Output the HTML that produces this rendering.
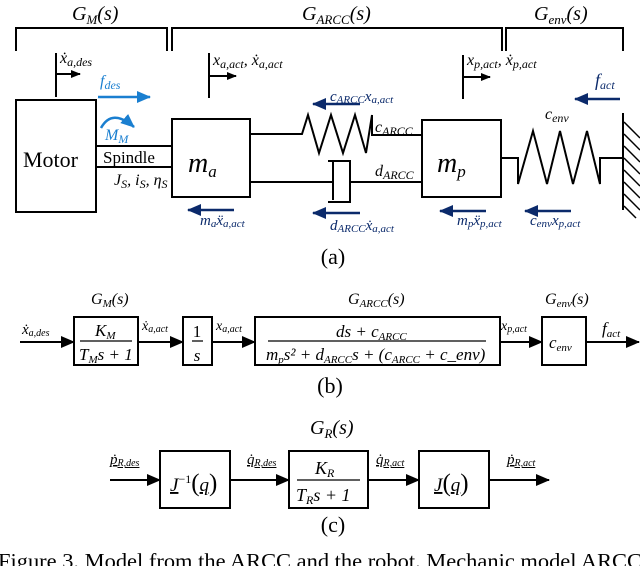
<!DOCTYPE html>
<html><head><meta charset="utf-8"><style>
html,body{margin:0;padding:0;background:#fff;width:640px;height:566px;overflow:hidden}
svg{display:block}
text{font-family:"Liberation Serif",serif}
.m{font-style:italic}
</style></head><body>
<svg width="640" height="566" viewBox="0 0 640 566" xmlns="http://www.w3.org/2000/svg">
<defs>
<marker id="ak" markerWidth="10" markerHeight="8" refX="9" refY="4" orient="auto" markerUnits="userSpaceOnUse"><path d="M0,0 L10,4 L0,8z" fill="#000"/></marker>
<marker id="ab" markerWidth="14" markerHeight="12" refX="13" refY="6" orient="auto" markerUnits="userSpaceOnUse"><path d="M0,0 L14,6 L0,12z" fill="#000"/></marker>
<marker id="al" markerWidth="14" markerHeight="12" refX="13" refY="6" orient="auto" markerUnits="userSpaceOnUse"><path d="M0,0 L14,6 L0,12z" fill="#1a7fd0"/></marker>
<marker id="an" markerWidth="14" markerHeight="12" refX="13" refY="6" orient="auto" markerUnits="userSpaceOnUse"><path d="M0,0 L14,6 L0,12z" fill="#0b2a6b"/></marker>
</defs>
<g fill="none" stroke="#000" stroke-width="2">
<path d="M16,51 V28 H167 V51"/>
<path d="M172,51 V28 H502 V51"/>
<path d="M506,51 V28 H623 V51"/>
<path d="M56,97 V53 M56,74 H80" marker-end="url(#ak)"/>
<path d="M209,98 V53 M209,76 H236" marker-end="url(#ak)"/>
<path d="M463,99 V55 M463,77 H490" marker-end="url(#ak)"/>
<rect x="16" y="100" width="80" height="112"/>
<rect x="96" y="146" width="76" height="21"/>
<rect x="172" y="119" width="78" height="78"/>
<rect x="422" y="120" width="79" height="77"/>
<path d="M250,134 H302 L308,115 L319,153 L331,115 L343,153 L355,115 L366,153 L372,115 V135 H422"/>
<path d="M250,182 H333 M333,162 V200 M328,161 H350 V202 H328 M350,182 H422"/>
<path d="M501,158 H518 V184 L533,131 L547,184 L560,131 L573,184 L587,131 L600,184 V158 H623"/>
<path d="M623,113 V210"/>
</g>
<g stroke="#000" stroke-width="1.5">
<path d="M624,122 L640,138 M624,134 L640,150 M624,146 L640,162 M624,158 L640,174 M624,170 L640,186 M624,182 L640,198 M624,194 L640,210 M624,206 L636,218"/>
</g>
<g fill="none" stroke-width="2.5">
<path d="M98,97 H150" stroke="#1a7fd0" marker-end="url(#al)"/>
<path d="M101,128 Q112,108 134,127" stroke="#1a7fd0" marker-end="url(#al)"/>
<path d="M360,104 H313" stroke="#0b2a6b" marker-end="url(#an)"/>
<path d="M360,213 H313" stroke="#0b2a6b" marker-end="url(#an)"/>
<path d="M234,210 H188" stroke="#0b2a6b" marker-end="url(#an)"/>
<path d="M486,211 H440" stroke="#0b2a6b" marker-end="url(#an)"/>
<path d="M571,211 H525" stroke="#0b2a6b" marker-end="url(#an)"/>
<path d="M620,99 H575" stroke="#0b2a6b" marker-end="url(#an)"/>
</g>
<g font-size="20" class="m">
<text x="72" y="20" class="m">G<tspan font-size="13" dy="4">M</tspan><tspan dy="-4">(s)</tspan></text>
<text x="302" y="20" class="m">G<tspan font-size="13" dy="4">ARCC</tspan><tspan dy="-4">(s)</tspan></text>
<text x="534" y="20" class="m">G<tspan font-size="13" dy="4">env</tspan><tspan dy="-4">(s)</tspan></text>
</g>
<g font-size="16" class="m">
<text x="60" y="63" class="m">ẋ<tspan font-size="12" dy="3">a,des</tspan></text>
<text x="213" y="65" class="m">x<tspan font-size="12" dy="3">a,act</tspan><tspan dy="-3">, ẋ</tspan><tspan font-size="12" dy="3">a,act</tspan></text>
<text x="467" y="65" class="m">x<tspan font-size="12" dy="3">p,act</tspan><tspan dy="-3">, ẋ</tspan><tspan font-size="12" dy="3">p,act</tspan></text>
<text x="375" y="132" class="m">c<tspan font-size="12" dy="3">ARCC</tspan></text>
<text x="375" y="176" class="m">d<tspan font-size="12" dy="3">ARCC</tspan></text>
<text x="545" y="119" class="m">c<tspan font-size="12" dy="3">env</tspan></text>
<text x="114" y="185" class="m">J<tspan font-size="12" dy="3">S</tspan><tspan dy="-3">, i</tspan><tspan font-size="12" dy="3">S</tspan><tspan dy="-3">, η</tspan><tspan font-size="12" dy="3">S</tspan></text>
</g>
<g font-size="16" fill="#1a7fd0" class="m">
<text x="100" y="86" class="m">f<tspan font-size="12" dy="3">des</tspan></text>
<text x="105" y="140" class="m">M<tspan font-size="12" dy="3">M</tspan></text>
</g>
<g font-size="15" fill="#0b2a6b" class="m">
<text x="330" y="101" class="m">c<tspan font-size="11" dy="2">ARCC</tspan><tspan dy="-2">x</tspan><tspan font-size="11" dy="2">a,act</tspan></text>
<text x="330" y="230" class="m">d<tspan font-size="11" dy="2">ARCC</tspan><tspan dy="-2">ẋ</tspan><tspan font-size="11" dy="2">a,act</tspan></text>
<text x="200" y="225" class="m">m<tspan font-size="11" dy="2">a</tspan><tspan dy="-2">ẍ</tspan><tspan font-size="11" dy="2">a,act</tspan></text>
<text x="457" y="225" class="m">m<tspan font-size="11" dy="2">p</tspan><tspan dy="-2">ẍ</tspan><tspan font-size="11" dy="2">p,act</tspan></text>
<text x="530" y="225" class="m">c<tspan font-size="11" dy="2">env</tspan><tspan dy="-2">x</tspan><tspan font-size="11" dy="2">p,act</tspan></text>
<text x="595" y="86" font-size="18" class="m">f<tspan font-size="12" dy="3">act</tspan></text>
</g>
<text x="23" y="167" font-size="22" font-family="Liberation Sans">Motor</text>
<text x="103" y="163" font-size="17" font-family="Liberation Sans">Spindle</text>
<text x="188" y="172" font-size="28" class="m">m<tspan font-size="17" dy="5">a</tspan></text>
<text x="437" y="172" font-size="28" class="m">m<tspan font-size="17" dy="5">p</tspan></text>
<text x="333" y="264" font-size="22" text-anchor="middle">(a)</text>

<g fill="none" stroke="#000" stroke-width="2">
<rect x="74" y="317" width="64" height="48"/>
<rect x="183" y="317" width="29" height="48"/>
<rect x="255" y="317" width="245" height="48"/>
<rect x="542" y="317" width="44" height="48"/>
<path d="M20,342 H74" marker-end="url(#ab)"/>
<path d="M138,342 H183" marker-end="url(#ab)"/>
<path d="M212,342 H255" marker-end="url(#ab)"/>
<path d="M500,342 H542" marker-end="url(#ab)"/>
<path d="M586,342 H639" marker-end="url(#ab)"/>
</g>
<g stroke="#000" stroke-width="1.2">
<path d="M80,341 H132 M192,341 H203 M268,341 H486"/>
</g>
<g font-size="16" class="m">
<text x="91" y="304" class="m">G<tspan font-size="11" dy="3">M</tspan><tspan dy="-3">(s)</tspan></text>
<text x="348" y="304" class="m">G<tspan font-size="11" dy="3">ARCC</tspan><tspan dy="-3">(s)</tspan></text>
<text x="545" y="304" class="m">G<tspan font-size="11" dy="3">env</tspan><tspan dy="-3">(s)</tspan></text>
<text x="22" y="334" font-size="15" class="m">ẋ<tspan font-size="10" dy="2">a,des</tspan></text>
<text x="142" y="330" font-size="14" class="m">ẋ<tspan font-size="10" dy="2">a,act</tspan></text>
<text x="216" y="330" font-size="14" class="m">x<tspan font-size="10" dy="2">a,act</tspan></text>
<text x="501" y="330" font-size="14" class="m">x<tspan font-size="10" dy="2">p,act</tspan></text>
<text x="602" y="334" font-size="17" class="m">f<tspan font-size="11" dy="3">act</tspan></text>
<text x="95" y="336" font-size="17" class="m">K<tspan font-size="11" dy="3">M</tspan></text>
<text x="79" y="360" font-size="17" class="m">T<tspan font-size="11" dy="3">M</tspan><tspan dy="-3">s + 1</tspan></text>
<text x="197" y="337" text-anchor="middle" font-size="17" font-style="normal">1</text>
<text x="197" y="361" text-anchor="middle" font-size="17" class="m">s</text>
<text x="336" y="337" font-size="17" class="m">ds + c<tspan font-size="11" dy="3">ARCC</tspan></text>
<text x="266" y="360" font-size="17" class="m">m<tspan font-size="11" dy="3">p</tspan><tspan dy="-3">s² + d</tspan><tspan font-size="11" dy="3">ARCC</tspan><tspan dy="-3">s + (c</tspan><tspan font-size="11" dy="3">ARCC</tspan><tspan dy="-3"> + c_env)</tspan></text>
<text x="549" y="348" font-size="17" class="m">c<tspan font-size="11" dy="3">env</tspan></text>
</g>
<text x="330" y="393" font-size="22" text-anchor="middle">(b)</text>

<g fill="none" stroke="#000" stroke-width="2">
<rect x="160" y="451" width="70" height="57"/>
<rect x="289" y="451" width="79" height="57"/>
<rect x="419" y="451" width="70" height="57"/>
<path d="M110,480 H160" marker-end="url(#ab)"/>
<path d="M230,480 H289" marker-end="url(#ab)"/>
<path d="M368,480 H419" marker-end="url(#ab)"/>
<path d="M489,480 H549" marker-end="url(#ab)"/>
</g>
<path d="M297,480 H360" stroke="#000" stroke-width="1.2"/>
<g font-size="17" class="m">
<text x="310" y="434" font-size="20" class="m">G<tspan font-size="13" dy="4">R</tspan><tspan dy="-4">(s)</tspan></text>
<text x="110" y="464" font-size="15" class="m" text-decoration="underline">ṗ<tspan font-size="10" dy="2">R,des</tspan></text>
<text x="247" y="464" font-size="15" class="m" text-decoration="underline">q̇<tspan font-size="10" dy="2">R,des</tspan></text>
<text x="376" y="464" font-size="15" class="m" text-decoration="underline">q̇<tspan font-size="10" dy="2">R,act</tspan></text>
<text x="507" y="464" font-size="15" class="m" text-decoration="underline">ṗ<tspan font-size="10" dy="2">R,act</tspan></text>
<text x="170" y="491" font-size="19" class="m"><tspan text-decoration="underline">J</tspan><tspan font-size="12" dy="-8" font-style="normal">−1</tspan><tspan dy="8" font-size="25" font-style="normal">(</tspan><tspan text-decoration="underline">q</tspan><tspan font-size="25" font-style="normal">)</tspan></text>
<text x="315" y="474" font-size="18" class="m">K<tspan font-size="12" dy="3">R</tspan></text>
<text x="296" y="501" font-size="18" class="m">T<tspan font-size="12" dy="3">R</tspan><tspan dy="-3">s + 1</tspan></text>
<text x="434" y="491" font-size="19" class="m"><tspan text-decoration="underline">J</tspan><tspan font-size="25" font-style="normal">(</tspan><tspan text-decoration="underline">q</tspan><tspan font-size="25" font-style="normal">)</tspan></text>
</g>
<text x="333" y="532" font-size="22" text-anchor="middle">(c)</text>
<text x="-2" y="568" font-size="21" textLength="644" lengthAdjust="spacingAndGlyphs">Figure 3.   Model from the ARCC and the robot. Mechanic model ARCC</text>
</svg>
</body></html>
